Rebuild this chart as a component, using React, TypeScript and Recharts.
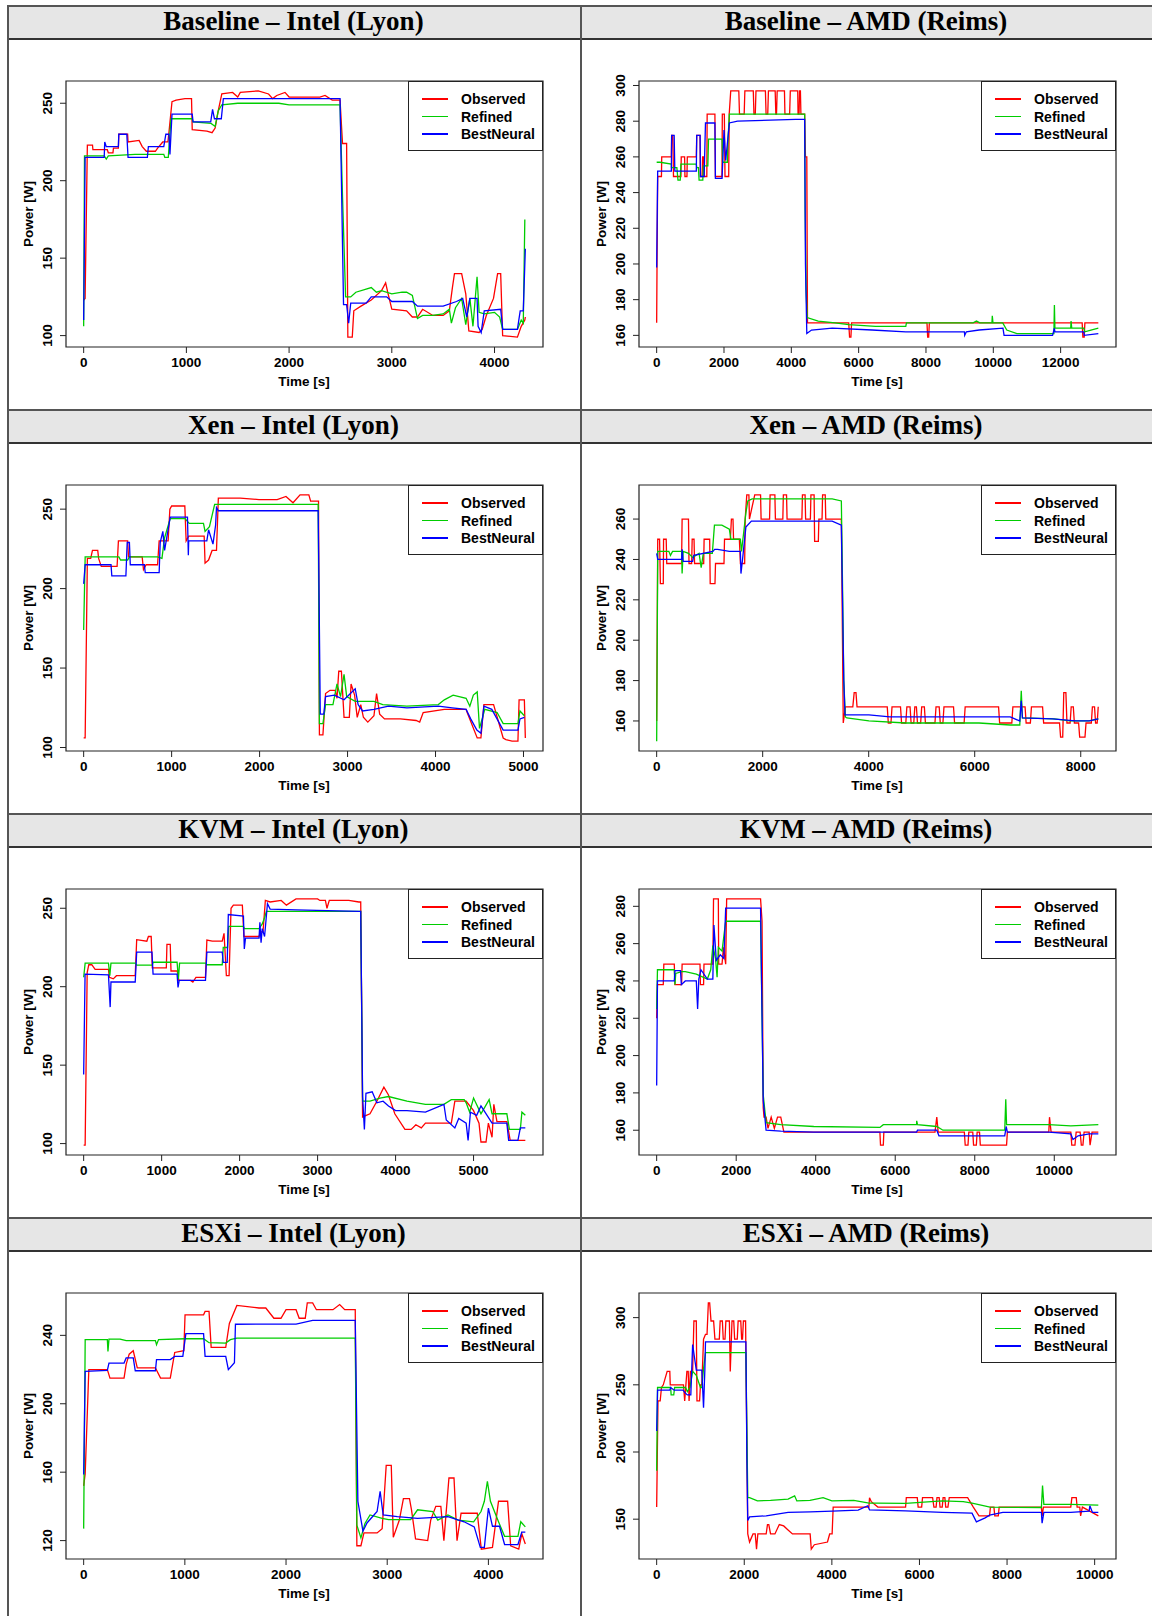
import React from "react";
import { LineChart, Line, XAxis, YAxis, ReferenceArea } from "recharts";

// series are flat [time, watts, time, watts, ...] lists

// Baseline – Intel (Lyon)
const baseIntelObs = [0,123, 14,124, 36,223, 86,223, 90,220, 230,220, 240,218, 285,218, 290,221, 338,221, 342,230, 428,230, 432,225, 540,226, 570,222, 610,219, 698,219, 720,221, 770,225, 820,225, 830,231, 860,251, 900,252, 986,253, 1050,253, 1057,233, 1200,232, 1250,231, 1280,234, 1310,245, 1345,256, 1450,257, 1500,254, 1525,257, 1700,258, 1800,256, 1840,253, 1880,255, 1960,257, 2000,254, 2300,254, 2350,255, 2420,252, 2496,252, 2520,224, 2560,224, 2572,99, 2615,99, 2630,116, 2700,119, 2800,123, 2900,129, 2940,134, 2960,128, 3000,117, 3144,116, 3200,112, 3250,112, 3300,117, 3400,113, 3500,113, 3560,116, 3590,131, 3610,140, 3680,140, 3720,127, 3750,103, 3850,102, 3880,104, 3920,113, 3990,124, 4030,140, 4060,140, 4079,100, 4223,99, 4260,106, 4295,110, 4300,112];
const baseIntelRef = [0,106, 8,216, 200,216, 220,214, 240,216, 500,217, 780,217, 790,215, 824,215, 850,240, 1057,240, 1065,238, 1240,237, 1280,235, 1310,245, 1345,249, 1500,250, 1900,250, 2000,249, 2496,249, 2520,190, 2550,125, 2600,125, 2650,128, 2750,130, 2800,131, 2850,128, 2900,129, 3000,127, 3100,128, 3144,128, 3200,126, 3250,111, 3300,113, 3400,113, 3500,114, 3560,117, 3580,108, 3620,118, 3680,124, 3720,107, 3760,124, 3790,106, 3830,138, 3850,115, 3900,114, 4000,115, 4050,112, 4079,104, 4223,104, 4260,110, 4280,108, 4295,175];
const baseIntelNN = [0,110, 14,215, 200,215, 205,225, 220,222, 338,222, 342,230, 420,230, 432,215, 620,215, 630,222, 780,222, 800,230, 830,230, 840,217, 860,243, 1057,243, 1065,238, 1237,238, 1255,246, 1273,240, 1340,240, 1360,253, 2496,253, 2530,120, 2560,120, 2580,108, 2600,121, 2750,121, 2800,125, 2950,125, 3000,122, 3200,122, 3250,119, 3500,119, 3630,122, 3690,124, 3730,112, 3760,124, 3830,124, 3840,106, 3870,102, 3900,116, 4060,117, 4080,104, 4223,104, 4250,116, 4280,116, 4300,156];

// Baseline – AMD (Reims)
const baseAmdObs = [0,167, 10,198, 30,249, 142,249, 150,260, 436,260, 445,272, 480,272, 500,249, 720,249, 730,260, 830,260, 840,249, 900,249, 910,260, 1178,260, 1190,272, 1290,272, 1300,249, 1350,249, 1365,260, 1396,260, 1410,249, 1490,249, 1500,284, 1730,284, 1745,249, 1940,249, 1950,284, 2010,284, 2030,249, 2140,249, 2155,284, 2200,297, 2440,297, 2460,284, 2600,284, 2620,297, 2870,297, 2890,284, 2930,284, 2950,297, 3230,297, 3250,284, 3300,284, 3320,297, 3520,297, 3540,284, 3560,284, 3580,297, 3796,297, 3810,284, 3950,284, 3970,297, 4190,297, 4200,284, 4230,284, 4245,297, 4270,297, 4285,284, 4396,284, 4420,260, 4460,260, 4480,167, 5705,167, 5730,159, 5770,159, 5790,167, 8030,167, 8050,159, 8080,159, 8100,167, 12640,167, 12660,159, 12700,159, 12720,167, 13120,167];
const baseAmdRef = [0,257, 100,257, 436,256, 440,254, 600,254, 633,247, 700,247, 720,256, 1178,256, 1190,254, 1240,254, 1260,247, 1370,247, 1390,255, 1520,255, 1540,270, 1942,270, 1960,257, 2100,257, 2120,270, 2160,284, 2400,284, 4396,284, 4410,230, 4440,185, 4470,170, 4800,168, 5300,167, 5705,166, 6500,165, 7400,165, 7420,167, 8500,167, 9400,167, 9500,168, 9600,167, 9960,167, 9970,171, 9990,167, 10280,167, 10400,163, 10700,161, 11760,161, 11800,161, 11815,177, 11830,164, 12300,164, 12310,168, 12330,164, 12687,164, 12720,162, 12900,163, 13120,164];
const baseAmdNN = [0,198, 30,252, 436,252, 445,272, 520,272, 540,252, 1178,252, 1190,272, 1290,272, 1300,249, 1410,249, 1450,279, 1730,279, 1745,248, 1942,248, 1980,265, 2000,275, 2051,258, 2160,279, 2400,280, 4124,281, 4396,281, 4420,200, 4460,161, 4600,163, 5215,164, 6400,163, 7400,162, 9142,162, 9150,160, 9200,162, 9578,163, 10287,164, 10320,160, 11760,160, 11815,164, 11830,162, 12687,162, 12700,160, 13120,161];

// Xen – Intel (Lyon)
const xenIntelObs = [0,106, 17,106, 42,219, 80,219, 100,224, 160,224, 170,219, 200,214, 380,214, 395,230, 500,230, 510,220, 665,220, 680,212, 710,215, 840,215, 858,230, 960,230, 980,250, 1000,252, 1150,252, 1165,230, 1194,233, 1370,233, 1380,216, 1420,218, 1460,224, 1510,224, 1531,257, 1780,257, 1993,256, 2200,256, 2300,258, 2380,254, 2460,259, 2560,259, 2580,255, 2670,255, 2680,108, 2720,108, 2750,134, 2800,136, 2860,136, 2880,131, 2900,148, 2930,148, 2960,119, 3020,119, 3040,140, 3080,133, 3110,119, 3150,127, 3180,119, 3230,116, 3300,120, 3330,134, 3365,121, 3420,118, 3600,118, 3780,117, 3820,116, 3860,122, 4100,124, 4348,124, 4360,122, 4474,106, 4516,106, 4550,127, 4660,127, 4769,106, 4800,105, 4870,104, 4937,104, 4950,130, 5010,130, 5021,106];
const xenIntelRef = [0,174, 17,220, 400,220, 420,218, 500,218, 520,220, 840,220, 890,219, 920,232, 984,244, 1152,244, 1200,241, 1362,241, 1380,236, 1430,239, 1489,253, 2666,253, 2680,115, 2720,115, 2750,127, 2834,127, 2880,140, 2920,132, 2960,146, 2990,132, 3087,129, 3300,129, 3400,127, 3675,126, 4032,127, 4100,130, 4200,133, 4348,131, 4390,126, 4430,133, 4474,135, 4500,112, 4560,124, 4700,122, 4769,115, 4937,115, 4960,123, 5010,120];
const xenIntelNN = [0,203, 17,215, 311,215, 320,208, 480,208, 495,229, 520,229, 530,215, 690,215, 700,210, 858,210, 870,229, 900,236, 920,224, 984,245, 1180,245, 1190,221, 1194,230, 1362,230, 1400,230, 1420,237, 1470,228, 1500,240, 1510,251, 1531,249, 2666,249, 2690,121, 2730,121, 2750,132, 2850,133, 2960,130, 3087,137, 3120,127, 3170,123, 3300,124, 3465,126, 3675,125, 4032,126, 4190,125, 4348,124, 4400,118, 4470,111, 4516,109, 4550,126, 4640,124, 4769,111, 4937,111, 4960,118, 5010,119];

// Xen – AMD (Reims)
const xenAmdObs = [0,160, 20,250, 55,250, 70,228, 125,228, 130,250, 180,250, 190,238, 470,238, 480,260, 600,260, 610,238, 660,238, 670,250, 705,250, 715,238, 887,238, 895,250, 1000,250, 1010,228, 1100,228, 1110,238, 1270,238, 1280,250, 1390,250, 1410,260, 1440,260, 1450,250, 1560,250, 1580,238, 1660,238, 1670,260, 1700,272, 1740,272, 1750,260, 1850,272, 1960,272, 1970,260, 2130,260, 2140,272, 2230,272, 2240,260, 2380,260, 2390,272, 2450,272, 2460,260, 2740,260, 2750,272, 2800,272, 2810,260, 2900,260, 2910,272, 2970,272, 2980,249, 3050,249, 3060,260, 3120,260, 3130,272, 3180,272, 3190,260, 3484,260, 3520,159, 3560,167, 3700,167, 3726,174, 3760,174, 3780,167, 4350,167, 4370,159, 4420,159, 4440,167, 4600,167, 4620,159, 4700,159, 4720,167, 4780,167, 4800,159, 4850,159, 4870,167, 4900,167, 4920,159, 4980,159, 5000,167, 5050,167, 5070,159, 5250,159, 5270,167, 5330,167, 5350,159, 5400,159, 5420,167, 5600,167, 5620,159, 5800,159, 5820,167, 6450,167, 6470,159, 6700,159, 6720,167, 6950,167, 6970,159, 7050,159, 7070,167, 7280,167, 7300,159, 7600,159, 7620,152, 7660,152, 7680,174, 7720,174, 7740,159, 7800,159, 7820,167, 7860,167, 7880,159, 7960,159, 7980,152, 8080,152, 8100,159, 8200,159, 8220,167, 8260,167, 8280,159, 8310,159, 8330,167];
const xenAmdRef = [0,150, 20,244, 230,244, 260,242, 300,244, 471,244, 480,233, 500,244, 600,243, 679,241, 800,243, 840,236, 880,243, 1050,243, 1090,257, 1230,257, 1371,255, 1400,250, 1579,250, 1600,244, 1640,253, 1683,263, 1720,269, 1800,270, 3311,270, 3484,269, 3510,220, 3530,180, 3560,162, 3588,161.5, 4004,160, 4696,159, 6081,159, 6670,158, 6850,158, 6878,175, 6900,161.5, 7500,161, 7800,160, 8159,160, 8332,161];
const xenAmdNN = [0,243, 20,240, 471,240, 480,245, 500,239, 679,239, 700,242, 1060,244, 1094,245, 1150,245, 1371,244, 1579,244, 1590,233, 1620,240, 1683,256, 1787,259, 3311,259, 3484,257, 3530,180, 3553,163, 4004,163, 4400,162, 6081,162, 6670,162, 6850,160, 6878,170, 6900,161.5, 7467,161, 7900,160, 8159,160, 8332,161];

// KVM – Intel (Lyon)
const kvmIntelObs = [0,99, 19,99, 45,209, 66,214, 104,214, 147,211, 318,211, 330,206, 380,205, 420,207, 661,207, 680,230, 810,229, 830,232, 866,232, 880,212, 1060,212, 1068,227, 1110,227, 1120,210, 1200,210, 1220,204, 1370,204, 1400,203, 1440,206, 1562,206, 1580,229.7, 1650,229, 1777,229, 1800,234, 1830,207, 1865,207, 1890,250, 1920,252, 2035,252, 2055,232, 2180,232, 2249,232, 2270,235, 2300,235, 2330,255, 2391,254, 2533,255, 2600,252, 2723,256, 3000,256, 3030,255, 3100,255, 3120,250, 3150,255, 3400,255, 3529,254, 3553,254, 3577,117, 3672,119, 3760,127, 3850,136, 3909,131, 3990,119, 4120,109, 4200,109, 4260,112, 4330,110, 4383,113, 4715,113, 4760,127, 4905,127, 5000,121, 5070,113, 5095,101, 5160,101, 5190,113, 5237,104, 5260,125, 5300,114, 5427,114, 5470,102, 5664,102];
const kvmIntelRef = [0,206, 19,215, 318,215, 335,207, 350,215, 661,215, 680,213.7, 880,213.7, 890,215.6, 1198,215.6, 1215,205, 1230,215, 1562,215, 1580,214, 1777,214, 1790,225, 1845,225, 1860,238.5, 2049,238.5, 2060,237, 2249,237, 2290,240, 2320,244, 2343,248, 3000,248, 3553,248, 3577,127, 3672,127, 3800,129, 3909,130, 4146,127, 4383,125, 4620,125, 4715,128, 4880,128, 4905,126, 4950,120, 5000,129, 5095,119, 5200,128, 5237,119, 5427,119, 5460,109, 5600,109, 5620,120, 5664,118];
const kvmIntelNN = [0,144, 18,208, 318,207.5, 340,187, 350,203, 661,203, 680,222, 876,222, 890,208, 1198,208, 1210,199.5, 1225,204, 1562,204, 1580,222, 1777,222, 1790,215.5, 1841,215.5, 1855,246, 2049,245, 2060,224, 2075,231, 2249,231, 2260,241, 2275,228, 2290,237, 2320,232, 2357,253, 2391,249.5, 2723,249, 3529,248, 3553,248, 3577,130, 3600,109, 3620,132, 3700,133, 3760,126, 3840,127, 3909,124, 4000,121, 4146,121, 4383,120, 4620,125, 4650,115, 4760,110, 4810,116, 4905,113, 4930,102, 4960,120, 5040,118, 5095,124, 5237,113, 5427,113, 5450,102, 5569,102, 5600,110, 5664,110];

// KVM – AMD (Reims)
const kvmAmdObs = [0,220, 20,238, 166,238, 180,249, 443,249, 460,238, 628,238, 640,249, 1090,249, 1100,238, 1180,238, 1190,249, 1413,249, 1430,284, 1551,284, 1560,249, 1644,249, 1680,258, 1736,249, 1760,284, 2613,284, 2650,272, 2680,172, 2700,167, 2752,167, 2800,161, 2880,167, 2960,161, 3040,167, 3121,167, 3200,159, 5614,159, 5630,152, 5700,152, 5714,159, 6537,159, 7000,159, 7045,167, 7080,159, 7738,159, 7760,152, 7830,152, 7850,159, 7950,159, 7970,152, 8040,152, 8060,159, 8120,159, 8140,152, 8800,152, 8820,159, 9862,159, 9880,167, 9920,159, 10416,159, 10440,152, 10520,152, 10550,159, 10650,159, 10680,152, 10720,152, 10750,159, 10877,159, 10900,152, 10950,159, 11108,159];
const kvmAmdRef = [0,225, 20,246, 443,246, 460,238, 480,244, 628,245, 720,245, 997,243.7, 1274,241, 1360,246, 1413,259, 1480,252, 1520,242, 1551,258, 1644,256, 1736,272, 2613,272, 2680,179, 2752,164, 3121,163, 3952,162, 5614,161.5, 5700,163, 6537,163, 6540,165, 6560,163, 7045,162, 7200,160, 8754,160, 8780,176.6, 8800,163, 9862,163, 10416,162.3, 11108,163];
const kvmAmdNN = [0,184, 20,240, 443,240, 460,245.5, 600,245.5, 620,238, 720,240, 997,240, 1030,225, 1060,241, 1113,246, 1274,241, 1413,241, 1440,270, 1500,251, 1600,254, 1690,252, 1736,279, 2613,279, 2680,176, 2752,160, 3121,159.5, 3952,159, 5614,159, 6537,159, 6560,160, 7045,160, 7100,157, 8754,157, 8790,162, 8820,159, 9862,159, 10416,158, 10470,155, 10600,157, 10877,158, 11108,158];

// ESXi – Intel (Lyon)
const esxIntelObs = [0,152, 15,159, 51,220, 234,220, 260,215, 399,215, 420,223, 450,229, 490,231, 530,221, 709,221, 760,215, 856,215, 900,230, 990,231, 1002,252, 1185,252, 1200,254, 1239,254, 1260,233, 1404,233, 1440,247, 1514,257.5, 1733,256, 1800,256, 1880,250, 1950,250, 2000,255, 2099,255, 2130,250, 2190,250, 2210,259, 2263,259, 2300,255, 2464,255, 2530,258, 2580,255, 2684,255, 2700,117, 2740,117, 2770,124.5, 2900,124.5, 2950,127, 2990,164, 3040,164, 3060,122, 3120,132, 3160,144.5, 3220,144.5, 3240,138, 3280,121, 3400,120, 3430,132, 3480,140, 3530,140, 3560,120, 3610,156.6, 3660,156.6, 3690,120, 3730,136, 3890,136, 3930,115, 4040,116, 4100,143, 4190,143, 4220,117, 4300,115, 4330,124, 4365,118];
const esxIntelRef = [0,127, 15,237.5, 234,237.5, 240,230.6, 250,237.8, 360,237.8, 420,236.9, 709,236.9, 720,234.5, 740,237.5, 1002,238, 1185,238, 1239,235.7, 1404,235.5, 1450,237.5, 1514,238.4, 2684,238.4, 2700,129, 2740,121.6, 2780,130, 2830,135, 2950,133, 3013,132.3, 3232,132.3, 3300,138, 3450,137, 3500,132, 3600,135, 3700,132, 3854,131, 3927,137, 3960,143, 3990,154.7, 4020,143, 4100,131, 4160,122.5, 4292,122.5, 4320,131, 4365,128];
const esxIntelNN = [0,158.6, 15,219, 234,219.5, 250,223.8, 399,223.8, 420,226.8, 490,226.8, 510,219.3, 709,219.3, 720,225.8, 856,225.8, 900,227.7, 980,227.7, 1010,241, 1185,241, 1200,227.7, 1404,227.7, 1430,220, 1490,224, 1500,246.5, 2099,246.6, 2263,248.8, 2684,248.8, 2710,143, 2760,125.5, 2800,130.3, 2900,137, 2930,148.8, 2960,135, 3100,134, 3300,133, 3600,134, 3760,131, 3860,128, 3920,116, 3960,116, 4000,139, 4040,128.4, 4110,128.4, 4160,117.7, 4292,117.7, 4330,125, 4365,125];

// ESXi – AMD (Reims)
const esxAmdObs = [0,159, 30,238, 80,238, 110,248, 151,250, 240,260, 300,260, 310,250, 612,250, 640,238, 690,260, 720,260, 740,238, 770,260, 821,260, 850,297.5, 905,297.5, 920,238, 980,238, 1000,250, 1031,250, 1070,284, 1115,287.6, 1150,287.6, 1180,311, 1210,311, 1241,297.5, 1300,297.5, 1330,284, 1430,284, 1450,297.5, 1500,297.5, 1520,284, 1560,284, 1580,297.5, 1660,297.5, 1680,260, 1720,297.5, 1760,297.5, 1780,284, 1840,284, 1860,297.5, 1920,297.5, 1940,284, 1960,284, 1980,297.5, 2030,297.5, 2080,139, 2121,133, 2200,139, 2250,139, 2280,127.7, 2310,139, 2500,139, 2530,146, 2560,146, 2600,139, 2700,139, 2800,146, 2900,145, 3000,142, 3100,139, 3504,139, 3530,127.7, 3600,131, 3900,133, 3950,139, 4006,139, 4030,159, 4845,159, 4860,166, 4900,163, 5050,159, 5683,159, 5700,166, 5950,166, 5970,159, 6050,159, 6070,166, 6300,166, 6330,159, 6380,159, 6400,166, 6450,166, 6470,159, 6520,159, 6540,166, 6580,166, 6600,159, 6650,159, 6680,166, 7100,166, 7230,159, 7359,152.5, 7600,152.5, 7620,159, 7700,159, 7720,152.5, 7800,152.5, 7820,159, 8784,159, 8800,152.5, 8830,159, 9455,159, 9480,166, 9580,166, 9600,159, 9660,159, 9680,152.5, 9720,159, 10084,152.5];
const esxAmdRef = [0,186, 20,248, 320,248, 330,242.5, 390,242.5, 410,248, 660,248, 700,245, 760,248, 821,260, 905,257, 1000,248, 1031,248, 1070,262, 1115,274, 2037,274, 2080,166, 2121,166, 2300,163.6, 2600,164, 3000,165, 3150,167.4, 3200,163.6, 3500,164, 3800,166, 4000,163.6, 4500,164, 4850,162, 5000,162, 5683,161.7, 6521,163.6, 7000,163, 7200,162, 7611,159, 8784,158.7, 8810,175, 8840,161, 9455,161, 10084,160.4];
const esxAmdNN = [0,215.7, 20,246, 300,246, 320,248, 400,246, 600,246, 650,244, 700,242.5, 780,242.5, 821,280, 905,261, 1031,261, 1070,233, 1100,261, 1115,282, 2037,282, 2060,195, 2080,149, 2121,151.7, 2500,152.5, 3000,155, 3504,155.4, 4006,156, 4600,156.7, 4820,160, 4860,157, 5683,156.2, 6521,155, 7200,154.5, 7300,148, 7500,151, 7600,153, 7904,155, 8784,155, 8800,147, 8840,155, 9455,155, 9874,156, 9890,160, 9950,155, 10084,155];

// tick labels
const ticksIntel4k = [0, 1000, 2000, 3000, 4000];
const ticksIntel5k = [0, 1000, 2000, 3000, 4000, 5000];
const ticksAmd12k = [0, 2000, 4000, 6000, 8000, 10000, 12000];
const ticksAmd8k = [0, 2000, 4000, 6000, 8000];
const ticksAmd10k = [0, 2000, 4000, 6000, 8000, 10000];
const wattsBy50From100 = [100, 150, 200, 250];
const wattsBy20From160 = [160, 180, 200, 220, 240, 260, 280, 300];
const wattsBy20To260 = [160, 180, 200, 220, 240, 260];
const wattsBy20To280 = [160, 180, 200, 220, 240, 260, 280];
const wattsBy40 = [120, 160, 200, 240];
const wattsBy50From150 = [150, 200, 250, 300];

const seriesNames = ["Observed", "Refined", "BestNeural"];
const seriesColors = ["#ff0000", "#00cd00", "#0000ff"];

const panels = [
  { title: "Baseline – Intel (Lyon)", series: [baseIntelObs, baseIntelRef, baseIntelNN], xTicks: ticksIntel4k, yTicks: wattsBy50From100 },
  { title: "Baseline – AMD (Reims)", series: [baseAmdObs, baseAmdRef, baseAmdNN], xTicks: ticksAmd12k, yTicks: wattsBy20From160 },
  { title: "Xen – Intel (Lyon)", series: [xenIntelObs, xenIntelRef, xenIntelNN], xTicks: ticksIntel5k, yTicks: wattsBy50From100 },
  { title: "Xen – AMD (Reims)", series: [xenAmdObs, xenAmdRef, xenAmdNN], xTicks: ticksAmd8k, yTicks: wattsBy20To260 },
  { title: "KVM – Intel (Lyon)", series: [kvmIntelObs, kvmIntelRef, kvmIntelNN], xTicks: ticksIntel5k, yTicks: wattsBy50From100 },
  { title: "KVM – AMD (Reims)", series: [kvmAmdObs, kvmAmdRef, kvmAmdNN], xTicks: ticksAmd10k, yTicks: wattsBy20To280 },
  { title: "ESXi – Intel (Lyon)", series: [esxIntelObs, esxIntelRef, esxIntelNN], xTicks: ticksIntel4k, yTicks: wattsBy40 },
  { title: "ESXi – AMD (Reims)", series: [esxAmdObs, esxAmdRef, esxAmdNN], xTicks: ticksAmd10k, yTicks: wattsBy50From150 },
];

const SANS = '"Liberation Sans", Arial, Helvetica, sans-serif';
const SERIF = '"Liberation Serif", "Times New Roman", serif';
const FRAME = "#555";

const CELL_W = 572;
const ROW_H = 404;
const HEAD_H = 33;
const TOP = 5;
const LEFT = 7;
const MID = 580;

const toPoints = (flat: number[]) => {
  const out: { t: number; v: number }[] = [];
  for (let i = 0; i < flat.length; i += 2) out.push({ t: flat[i], v: flat[i + 1] });
  return out;
};

// R's default axis range: data range stretched by 4% at each end
const rRange = (vals: number[]): [number, number] => {
  const lo = Math.min(...vals);
  const hi = Math.max(...vals);
  const pad = (hi - lo) * 0.04;
  return [lo - pad, hi + pad];
};

const XTick = (props: any) => {
  const { x, y, payload } = props;
  return (
    <text x={x} y={y + 7} textAnchor="middle" dominantBaseline="central"
      fontFamily={SANS} fontWeight="bold" fontSize={13.5} fill="#000">
      {payload.value}
    </text>
  );
};

const YTick = (props: any) => {
  const { x, y, payload } = props;
  const cx = x - 10;
  return (
    <text x={cx} y={y} transform={`rotate(-90, ${cx}, ${y})`} textAnchor="middle"
      dominantBaseline="central" fontFamily={SANS} fontWeight="bold" fontSize={13.5} fill="#000">
      {payload.value}
    </text>
  );
};

function Panel({ p, left, top }: { p: (typeof panels)[number]; left: number; top: number }) {
  const data = p.series.map(toPoints);
  const all = data.flat();
  const xDom = rRange(all.map((d) => d.t));
  const yDom = rRange(all.map((d) => d.v));

  return (
    <>
      <div style={{ position: "absolute", left, top: top + HEAD_H + 1 }}>
        <LineChart width={CELL_W} height={369} margin={{ top: 42, right: 36, bottom: 0, left: 0 }}>
          <XAxis type="number" dataKey="t" domain={xDom} ticks={p.xTicks} interval={0}
            allowDataOverflow height={61} tickSize={6} axisLine={false}
            tickLine={{ stroke: "#222" }} tick={XTick} />
          <YAxis type="number" dataKey="v" domain={yDom} ticks={p.yTicks} interval={0}
            allowDataOverflow width={59} tickSize={6} axisLine={false}
            tickLine={{ stroke: "#222" }} tick={YTick} />
          <ReferenceArea x1={xDom[0]} x2={xDom[1]} y1={yDom[0]} y2={yDom[1]}
            fill="none" fillOpacity={0} stroke="#222" strokeWidth={1.2} ifOverflow="visible" />
          {data.map((d, i) => (
            <Line key={seriesNames[i]} data={d} dataKey="v" type="linear" stroke={seriesColors[i]}
              strokeWidth={1.3} dot={false} activeDot={false} isAnimationActive={false} />
          ))}
        </LineChart>
      </div>

      {/* legend, top right of the plot box */}
      <div style={{
        position: "absolute", left: left + 401, top: top + 76, width: 135, height: 70,
        border: "1.2px solid #222", boxSizing: "border-box", background: "#fff",
      }}>
        {seriesNames.map((n, i) => (
          <div key={n} style={{ position: "absolute", left: 0, top: 17 + i * 17.5 - 9, height: 18, width: 134 }}>
            <div style={{ position: "absolute", left: 13, top: 8, width: 26, height: 1.5, background: seriesColors[i] }} />
            <div style={{
              position: "absolute", left: 52, top: 0, lineHeight: "18px",
              fontFamily: SANS, fontWeight: "bold", fontSize: 14, color: "#000", whiteSpace: "nowrap",
            }}>{n}</div>
          </div>
        ))}
      </div>

      {/* axis titles */}
      <div style={{
        position: "absolute", left: left + 21, top: top + 209, transform: "translate(-50%, -50%) rotate(-90deg)",
        fontFamily: SANS, fontWeight: "bold", fontSize: 13.5, whiteSpace: "nowrap", color: "#000",
      }}>Power [W]</div>
      <div style={{
        position: "absolute", left: left + 297, top: top + 376, transform: "translate(-50%, -50%)",
        fontFamily: SANS, fontWeight: "bold", fontSize: 13.5, whiteSpace: "nowrap", color: "#000",
      }}>Time [s]</div>
    </>
  );
}

export default function App() {
  const rows = [0, 1, 2, 3];
  return (
    <div style={{ position: "absolute", left: 0, top: 0, width: 1152, height: 1616, background: "#fff", overflow: "hidden" }}>
      {rows.map((r) => {
        const top = TOP + r * ROW_H;
        return (
          <React.Fragment key={r}>
            <div style={{ position: "absolute", left: LEFT, top, width: 1152 - LEFT, height: HEAD_H, background: "#e6e6e6" }} />
            <div style={{ position: "absolute", left: LEFT, top, width: 1152 - LEFT, height: 1.5, background: FRAME }} />
            <div style={{ position: "absolute", left: LEFT, top: top + HEAD_H, width: 1152 - LEFT, height: 1.5, background: "#333" }} />
            {[0, 1].map((c) => {
              const p = panels[r * 2 + c];
              const cellLeft = c === 0 ? LEFT : MID;
              const cellW = c === 0 ? MID - LEFT : 1152 - MID;
              return (
                <React.Fragment key={c}>
                  <div style={{
                    position: "absolute", left: cellLeft, top, width: cellW, height: HEAD_H,
                    display: "flex", alignItems: "center", justifyContent: "center",
                    fontFamily: SERIF, fontWeight: "bold", fontSize: 27, color: "#000", whiteSpace: "nowrap",
                  }}>{p.title}</div>
                  <Panel p={p} left={cellLeft} top={top} />
                </React.Fragment>
              );
            })}
          </React.Fragment>
        );
      })}
      <div style={{ position: "absolute", left: LEFT, top: TOP, width: 1.5, height: 1616 - TOP, background: FRAME }} />
      <div style={{ position: "absolute", left: MID, top: TOP, width: 1.5, height: 1616 - TOP, background: FRAME }} />
    </div>
  );
}
